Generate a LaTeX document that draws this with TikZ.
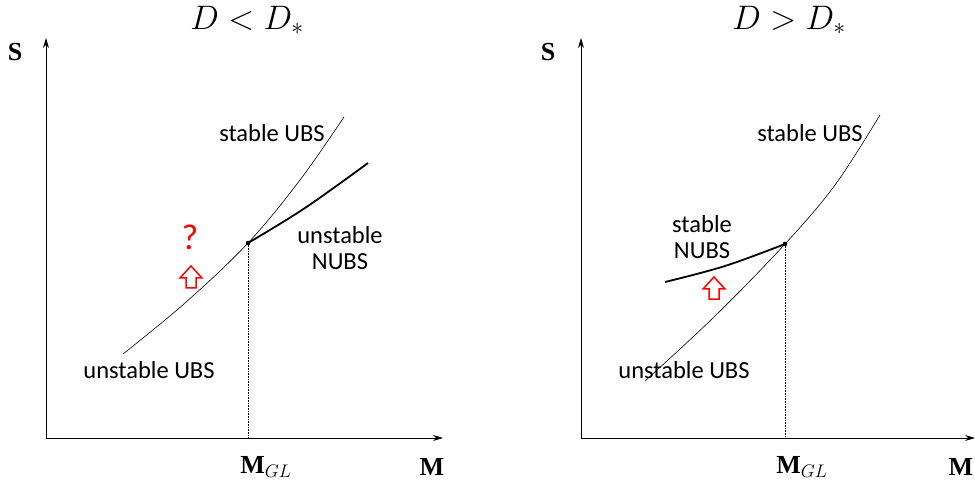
\RequirePackage{fix-cm}
\documentclass[tikz,border=0pt]{standalone}
\usepackage[no-math]{fontspec}
\setmainfont{Carlito}
\newfontfamily\axisfont{Liberation Serif}
\usetikzlibrary{arrows.meta}

\tikzset{
  uparrow/.pic={
    \draw[draw=red, line width=1.5pt, line join=miter]
      (-5,11) -- (-5,1) -- (-11,1) -- (0,-11) -- (11,1) -- (5,1) -- (5,11) -- cycle;
  }
}

\begin{document}
\begin{tikzpicture}[x=1pt, y=-1pt, >={Stealth[length=10pt, width=6pt]},
  axis/.style={->, line width=0.9pt},
  ubs/.style={line width=0.6pt},
  nubs/.style={line width=1.8pt},
  guide/.style={densely dotted, line width=0.6pt},
  lbl/.style={font=\fontsize{24.5}{26.5}\selectfont, align=center, inner sep=0pt},
  ttl/.style={font=\fontsize{34}{36}\selectfont, inner sep=0pt},
  axlbl/.style={font=\fontsize{26}{28}\selectfont\axisfont\bfseries, inner sep=0pt}]

\useasboundingbox (0,0) rectangle (975,481);

% --- Left panel: D < D_* ---
\coordinate (lo) at (46,438);
\coordinate (lyend) at (46,38);
\coordinate (lxend) at (443,438);
\coordinate (lgl) at (248,243);
\coordinate (lglfoot) at (248,438);

\node[ttl] (ltitle) at (247,20) {$D < D_*$};
\node[axlbl] (lS) at (15,52) {S};
\node[axlbl] (lM) at (432,467) {M};
\node[axlbl] (lMgl) at (266,467) {M$_{GL}$};

\draw[guide] (lgl) -- (lglfoot);
\draw[ubs] plot[smooth, tension=0.6] coordinates {
  (123,354) (185,303) (248,243) (300,180) (344,117)};
\draw[nubs] plot[smooth, tension=0.6] coordinates {
  (248,243) (305,208) (368,163)};
\fill (lgl) circle (2.3);

\draw[axis] (lo) -- (lyend);
\draw[axis] (lo) -- (lxend);

\node[lbl] (lstable) at (272,133) {stable UBS};
\node[lbl] (lnubs) at (340,248) {unstable\\NUBS};
\node[lbl] (lunstable) at (149,370) {unstable UBS};
\node[lbl, text=red, font=\fontsize{36}{38}\selectfont] (lquery) at (190,237) {?};
\pic at (191,277) {uparrow};

% --- Right panel: D > D_* ---
\coordinate (ro) at (581,438);
\coordinate (ryend) at (581,38);
\coordinate (rxend) at (975,438);
\coordinate (rgl) at (785,244);
\coordinate (rglfoot) at (785,438);

\node[ttl] (rtitle) at (789,20) {$D > D_*$};
\node[axlbl] (rS) at (548,52) {S};
\node[axlbl] (rM) at (961,467) {M};
\node[axlbl] (rMgl) at (802,467) {M$_{GL}$};

\draw[guide] (rgl) -- (rglfoot);
\draw[ubs] plot[smooth, tension=0.6] coordinates {
  (645,381) (715,316) (785,244) (835,185) (880,115)};
\draw[nubs] plot[smooth, tension=0.6] coordinates {
  (665,282) (725,266) (785,244)};
\fill (rgl) circle (2.3);

\draw[axis] (ro) -- (ryend);
\draw[axis] (ro) -- (rxend);

\node[lbl] (rstable) at (810,133) {stable UBS};
\node[lbl] (rnubs) at (702,237) {stable\\NUBS};
\node[lbl] (runstable) at (684,370) {unstable UBS};
\pic at (714,288) {uparrow};

\end{tikzpicture}
\end{document}
